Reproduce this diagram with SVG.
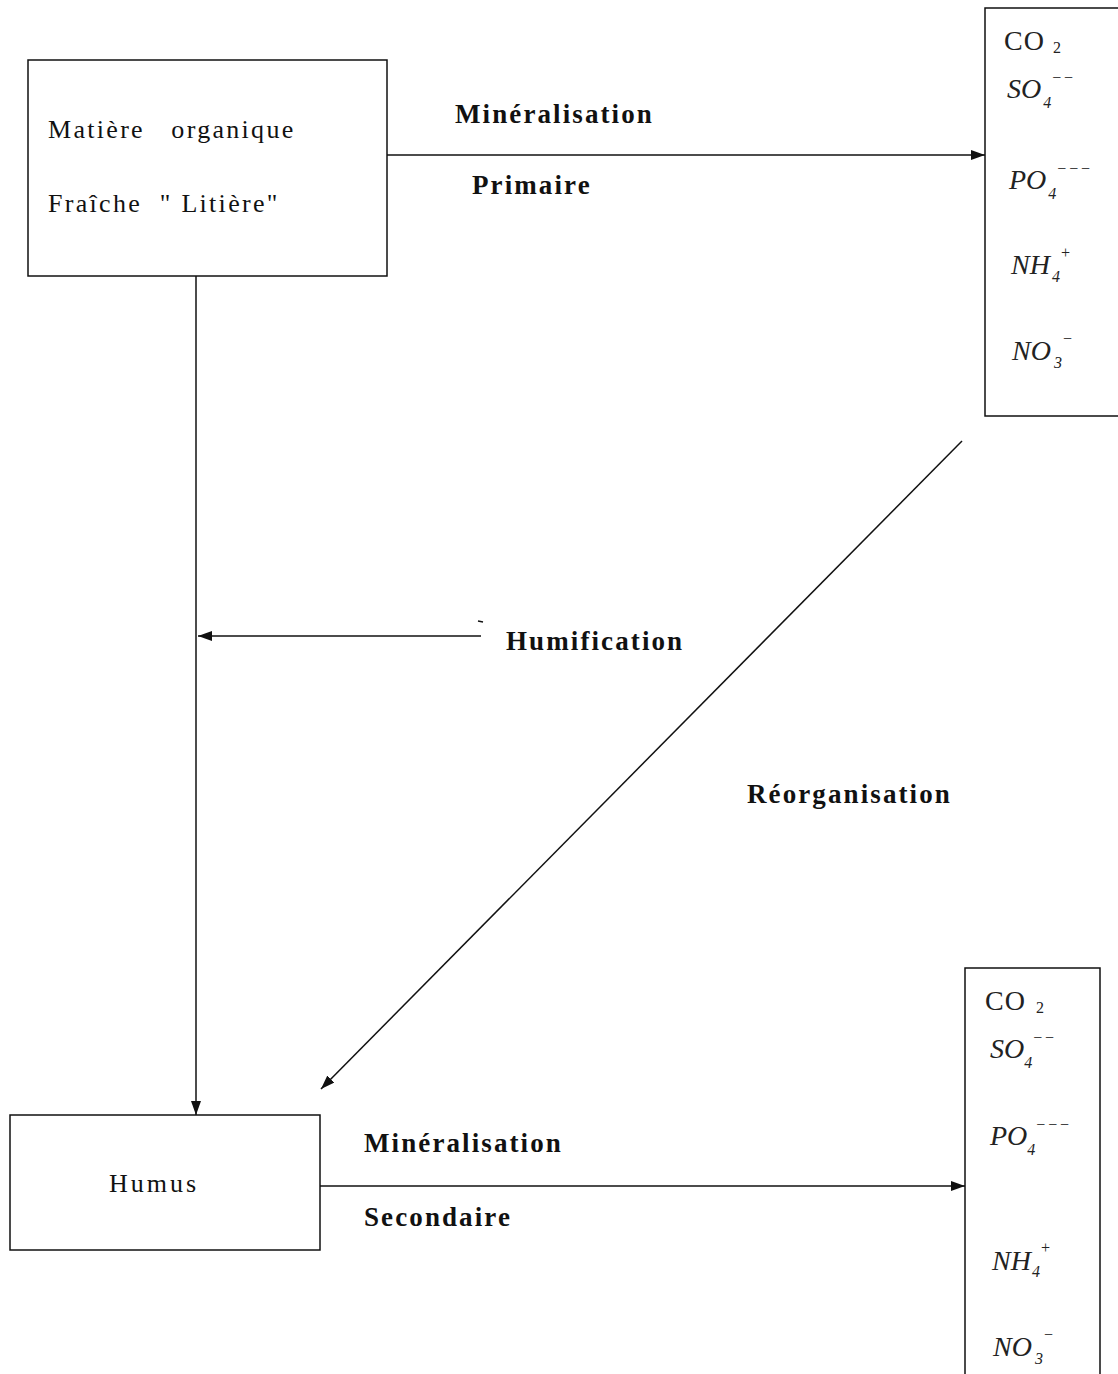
<svg xmlns="http://www.w3.org/2000/svg" width="1118" height="1374" viewBox="0 0 1118 1374">
<style>
.box{fill:#fff;stroke:#111;stroke-width:1.5}
.ln{fill:none;stroke:#111;stroke-width:1.5}
.t{font-family:"Liberation Serif",serif;font-size:26px;letter-spacing:2.3px;fill:#111}
.b{font-family:"Liberation Serif",serif;font-size:27px;font-weight:bold;letter-spacing:2.1px;fill:#111}
.c{font-family:"Liberation Serif",serif;font-size:28px;letter-spacing:1px;fill:#222}
.i{font-family:"Liberation Serif",serif;font-size:28px;font-style:italic;fill:#222}
.s{font-size:16px;letter-spacing:0}
.sup{font-size:16px;letter-spacing:1px}
</style>
<defs>
<marker id="ah" viewBox="0 0 14 10" refX="14" refY="5" markerWidth="14" markerHeight="10" markerUnits="userSpaceOnUse" orient="auto">
<path d="M0,0 L14,5 L0,10 z" fill="#111"/>
</marker>
</defs>
<rect width="1118" height="1374" fill="#fff"/>
<g id="connectors">
<line class="ln" x1="387" y1="155" x2="985" y2="155" marker-end="url(#ah)"/>
<line class="ln" x1="196" y1="276" x2="196" y2="1115" marker-end="url(#ah)"/>
<line class="ln" x1="481" y1="636" x2="198" y2="636" marker-end="url(#ah)"/>
<line class="ln" x1="478" y1="621" x2="483" y2="622"/>
<line class="ln" x1="962" y1="441" x2="321" y2="1089" marker-end="url(#ah)"/>
<line class="ln" x1="320" y1="1186" x2="965" y2="1186" marker-end="url(#ah)"/>
</g>
<g id="node-matiere">
<rect class="box" x="28" y="60" width="359" height="216"/>
<text class="t" x="48" y="138" xml:space="preserve">Matière   organique</text>
<text class="t" x="48" y="212" xml:space="preserve">Fraîche  " Litière"</text>
</g>
<g id="node-humus">
<rect class="box" x="10" y="1115" width="310" height="135"/>
<text class="t" x="109" y="1192" style="letter-spacing:3px">Humus</text>
</g>
<g id="node-mineraux1">
<path class="box" d="M1118,8 L985,8 L985,416 L1118,416"/>
<text class="c" x="1004" y="50">CO</text><text class="c s" x="1053" y="53">2</text>
<text class="i" x="1007" y="98">SO<tspan class="s" dx="2" dy="10">4</tspan><tspan class="sup" dy="-25">−−</tspan></text>
<text class="i" x="1009" y="189">PO<tspan class="s" dx="2" dy="10">4</tspan><tspan class="sup" dy="-25">−−−</tspan></text>
<text class="i" x="1011" y="274">NH<tspan class="s" dx="2" dy="8">4</tspan><tspan class="sup" dy="-24">+</tspan></text>
<text class="i" x="1012" y="360">NO<tspan class="s" dx="3" dy="8">3</tspan><tspan class="sup" dy="-24">−</tspan></text>
</g>
<g id="node-mineraux2">
<path class="box" d="M965,1374 L965,968 L1100,968 L1100,1374"/>
<text class="c" x="985" y="1010">CO</text><text class="c s" x="1036" y="1013">2</text>
<text class="i" x="990" y="1058">SO<tspan class="s" dx="0" dy="10">4</tspan><tspan class="sup" dy="-25">−−</tspan></text>
<text class="i" x="990" y="1145">PO<tspan class="s" dx="0" dy="10">4</tspan><tspan class="sup" dy="-25">−−−</tspan></text>
<text class="i" x="992" y="1270">NH<tspan class="s" dx="1" dy="7">4</tspan><tspan class="sup" dy="-24">+</tspan></text>
<text class="i" x="993" y="1356">NO<tspan class="s" dx="3" dy="8">3</tspan><tspan class="sup" dy="-24">−</tspan></text>
</g>
<g id="labels">
<text class="b" x="455" y="123">Minéralisation</text>
<text class="b" x="472" y="194">Primaire</text>
<text class="b" x="506" y="650">Humification</text>
<text class="b" x="747" y="803">Réorganisation</text>
<text class="b" x="364" y="1152">Minéralisation</text>
<text class="b" x="364" y="1226">Secondaire</text>
</g>
</svg>
